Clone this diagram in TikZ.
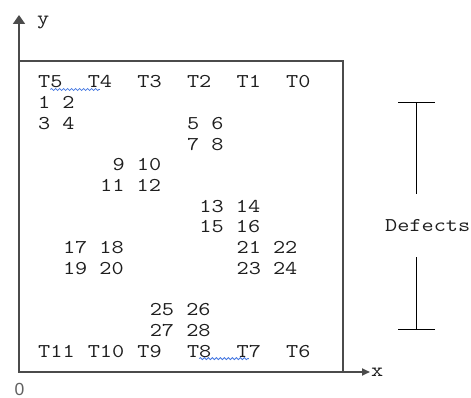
\documentclass[tikz,border=0pt]{standalone}
\usepackage{fontspec}
\newfontfamily\axisfont{Liberation Sans}
\usetikzlibrary{arrows.meta,decorations.pathmorphing}
\definecolor{ink}{RGB}{30,30,30}
\definecolor{framegray}{RGB}{75,75,75}
\definecolor{squiggle}{RGB}{70,120,225}
% widened typewriter text, close to a Courier-like pitch
\newcommand\wide[1]{\scalebox{1.21}[1]{#1}}
% grid cell of the monospaced layout: column c, row r
\newcommand\gridcell[4]{\node[cell] (#1) at ({38+12.4*#2},{88+20.7*#3}) {\wide{#4}};}
\begin{document}
\begin{tikzpicture}[x=1pt,y=-1pt,
  cell/.style={inner sep=0pt, anchor=base west, text=ink,
    font=\ttfamily\fontsize{19.5}{23}\selectfont},
  frameline/.style={draw=framegray, line width=1.5pt},
  axisline/.style={draw=framegray, line width=1.7pt},
  bracketline/.style={draw=black, line width=1.3pt},
  squiggly/.style={draw=squiggle, line width=0.8pt,
    decorate, decoration={snake, amplitude=1pt, segment length=4pt}}]
\useasboundingbox (0,0) rectangle (471,398);

% axes and the die outline
\coordinate (O) at (19,372);
\coordinate (ytip) at (19,15);
\coordinate (xtip) at (370,372);
\coordinate (boxtr) at (343,61);
\draw[frameline] (O) rectangle (boxtr);
\draw[axisline, -{Triangle[length=9pt,width=12pt]}] (O) -- (ytip);
\draw[axisline, -{Triangle[length=8pt,width=7pt]}] (O) -- (xtip);
\node[cell] (ylab) at (37,25) {\wide{y}};
\node[cell] (xlab) at (371,376) {\wide{x}};
\node[inner sep=0pt, anchor=base west, text=ink!70,
  font=\axisfont\fontsize{17.5}{20}\selectfont] (orig) at (14.5,395.5) {0};

% top row of test points
\gridcell{t5}{0}{0}{T5}
\gridcell{t4}{4}{0}{T4}
\gridcell{t3}{8}{0}{T3}
\gridcell{t2}{12}{0}{T2}
\gridcell{t1}{16}{0}{T1}
\gridcell{t0}{20}{0}{T0}

% defect numbers
\gridcell{d1}{0}{1}{1 2}
\gridcell{d3}{0}{2}{3 4}
\gridcell{d5}{12}{2}{5 6}
\gridcell{d7}{12}{3}{7 8}
\gridcell{d9}{6}{4}{9 10}
\gridcell{d11}{5}{5}{11 12}
\gridcell{d13}{13}{6}{13 14}
\gridcell{d15}{13}{7}{15 16}
\gridcell{d17}{2}{8}{17 18}
\gridcell{d21}{16}{8}{21 22}
\gridcell{d19}{2}{9}{19 20}
\gridcell{d23}{16}{9}{23 24}
\gridcell{d25}{9}{11}{25 26}
\gridcell{d27}{9}{12}{27 28}

% bottom row of test points
\gridcell{t11}{0}{13}{T11}
\gridcell{t10}{4}{13}{T10}
\gridcell{t9}{8}{13}{T9}
\gridcell{t8}{12}{13}{T8}
\gridcell{t7}{16}{13}{T7}
\gridcell{t6}{20}{13}{T6}

% wavy underlines
\draw[squiggly] ([yshift=-1.5pt]t5.base) -- ([yshift=-1.5pt]t4.base);
\draw[squiggly] ([yshift=-1.5pt]t8.base) -- ([yshift=-1.5pt]t7.base);

% defects span marker
\node[cell] (defects) at (385,232) {\wide{Defects}};
\coordinate (bt) at (416.7,102);
\coordinate (bm1) at (416.7,194);
\coordinate (bm2) at (416.7,257);
\coordinate (bb) at (416.7,330);
\draw[bracketline, {Bar[width=37pt]}-] (bt) -- (bm1);
\draw[bracketline, -{Bar[width=37pt]}] (bm2) -- (bb);
\end{tikzpicture}
\end{document}
